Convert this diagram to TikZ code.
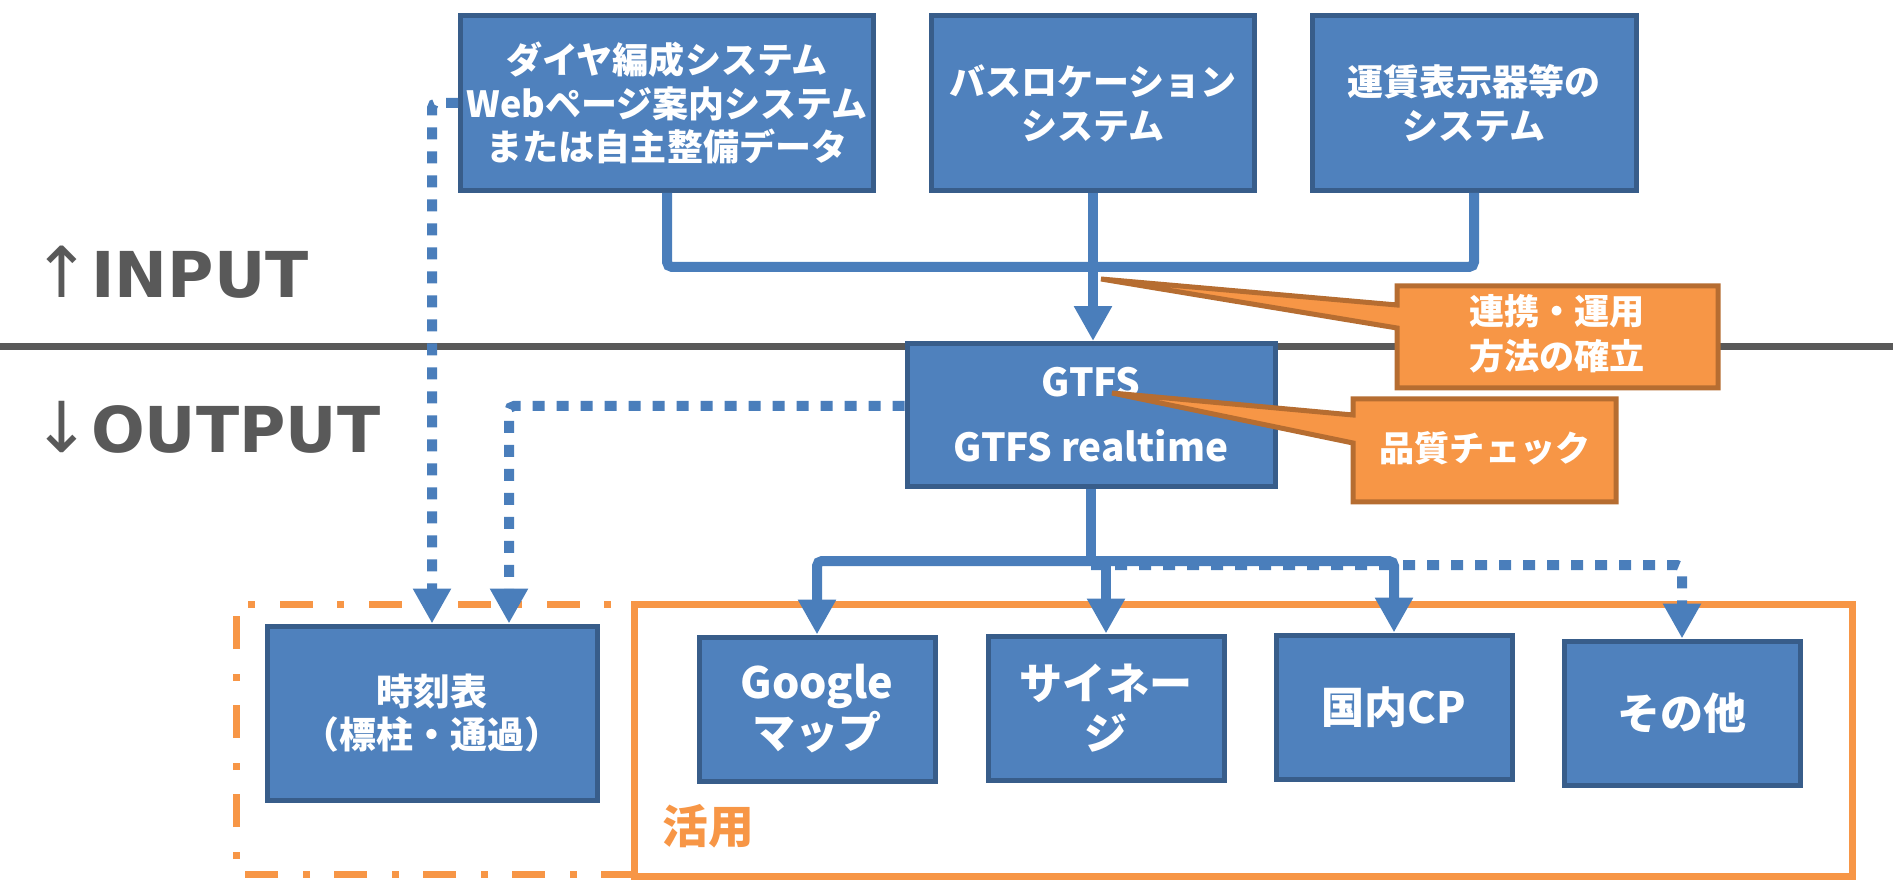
\documentclass[tikz,border=0pt]{standalone}
\usepackage{fontspec}
\usetikzlibrary{arrows.meta}
\newfontfamily\jpfont{Noto Sans CJK JP}
\newfontfamily\sidefont{DejaVu Sans}
\definecolor{boxfill}{HTML}{4F81BD}
\definecolor{boxedge}{HTML}{385D8A}
\definecolor{linkblue}{HTML}{4A7EBB}
\definecolor{calloutfill}{HTML}{F79646}
\definecolor{calloutedge}{HTML}{B66D31}
\definecolor{frameorange}{HTML}{F79646}
\definecolor{sepgray}{HTML}{595959}
\newlength\unitd
\setlength{\unitd}{0.02cm}
\tikzset{
  bluebox/.style={draw=boxedge, fill=boxfill, line width=5\unitd, text=white,
    align=center, inner sep=0pt},
  toptext/.style={font=\jpfont\bfseries\fontsize{20.5}{25}\selectfont},
  usetext/.style={font=\jpfont\bfseries\fontsize{24.5}{28.5}\selectfont},
  link/.style={draw=linkblue, line width=10\unitd, rounded corners=5\unitd},
  arrowlink/.style={link, -{Triangle[width=0.72cm, length=0.7cm]}},
  dotlink/.style={arrowlink, dash pattern=on 12\unitd off 12\unitd},
  callout/.style={fill=calloutfill, draw=calloutedge, line width=5\unitd, line join=miter},
  callouttext/.style={text=white, align=center, inner sep=0pt,
    font=\jpfont\bfseries\fontsize{20}{25.6}\selectfont},
  sidetext/.style={text=sepgray, inner sep=0pt, anchor=west,
    font=\sidefont\bfseries\fontsize{36}{40}\selectfont}
}
% rectangle with a wedge on its left side: x1,y1,x2,y2,upper base,lower base,tip
\newcommand{\wedgecallout}[7]{
   \filldraw[callout] (#1,#2) -- (#3,#2) -- (#3,#4) -- (#1,#4) --
   (#1,#6) -- (#7) -- (#1,#5) -- cycle;
}
\begin{document}
\begin{tikzpicture}[x=0.02cm, y=-0.02cm]
    \useasboundingbox (0,0) rectangle (1893,881);
    % input / output border
    \draw[sepgray, line width=7\unitd] (0,347) -- (1893,347);
    \node[sidetext] (inlabel) at (32,272) {{\mdseries\fontsize{40}{40}\selectfont ↑}INPUT};
    \node[sidetext] (outlabel) at (32,427) {{\mdseries\fontsize{40}{40}\selectfont ↓}OUTPUT};

    % frames
    \draw[frameorange, line width=7\unitd,
      dash pattern=on 33\unitd off 24\unitd on 7\unitd off 25\unitd]
      (634,874) -- (236,874) -- (236,604) -- (634,604);
    \draw[frameorange, line width=7\unitd] (634,604) rectangle (1852,876);
    \node[text=frameorange, font=\jpfont\bfseries\fontsize{26}{30}\selectfont]
      (uselabel) at (708,826) {活用};

    % input systems
    \node[bluebox, toptext, minimum width=413\unitd, minimum height=175\unitd]
      (dia) at (667,103) {ダイヤ編成システム\\Webページ案内システム\\または自主整備データ};
    \node[bluebox, toptext, minimum width=323\unitd, minimum height=175\unitd]
      (busloc) at (1093,103) {バスロケーション\\システム};
    \node[bluebox, toptext, minimum width=324\unitd, minimum height=175\unitd]
      (fare) at (1474,103) {運賃表示器等の\\システム};
    \node[bluebox, font=\jpfont\bfseries\fontsize{22}{37}\selectfont,
      minimum width=368\unitd, minimum height=143\unitd]
      (gtfs) at (1091,415) {GTFS\\GTFS realtime};

    % outputs
    \node[bluebox, font=\jpfont\bfseries\fontsize{21}{24.5}\selectfont,
      minimum width=330\unitd, minimum height=174\unitd]
      (timetable) at (432,713) {時刻表\\（標柱・通過）};
    \node[bluebox, usetext, minimum width=236\unitd, minimum height=144\unitd]
      (google) at (817,709) {Google\\マップ};
    \node[bluebox, usetext, minimum width=236\unitd, minimum height=144\unitd]
      (signage) at (1106,708) {サイネー\\ジ};
    \node[bluebox, usetext, minimum width=236\unitd, minimum height=144\unitd]
      (cp) at (1394,707) {国内CP};
    \node[bluebox, usetext, minimum width=236\unitd, minimum height=144\unitd]
      (other) at (1682,713) {その他};

    % connectors
    \coordinate (injoin) at (1093,267);
    \coordinate (outjoin) at (1091,561);
    \coordinate (dotjoin) at (1091,565);
    \draw[link] (dia.south) |- (injoin) -| (fare.south);
    \draw[arrowlink] (busloc.south) -- (busloc.south |- gtfs.north);
    \draw[dotlink] (dia.west) -| (timetable.north);
    \draw[dotlink] (gtfs.west |- 0,406) -| (509,0 |- timetable.north);
    \draw[dotlink] (dotjoin) -| (other.north);
    \draw[link] (gtfs.south) -- (outjoin);
    \draw[link, {Triangle[width=0.72cm, length=0.7cm]}-{Triangle[width=0.72cm, length=0.7cm]}]
      (google.north) |- (outjoin) -| (cp.north);
    \draw[arrowlink] (signage.north |- outjoin) -- (signage.north);

    % callouts
    \coordinate (tipa) at (1101,279);
    \coordinate (tipb) at (1112,393);
    \wedgecallout{1397}{286}{1718}{388}{305}{328}{tipa}
    \node[callouttext] (renkei) at (1557,334) {連携・運用\\方法の確立};
    \wedgecallout{1353}{399}{1616}{502}{415}{443}{tipb}
    \node[callouttext] (hinshitsu) at (1485,448) {品質チェック};
\end{tikzpicture}
\end{document}
